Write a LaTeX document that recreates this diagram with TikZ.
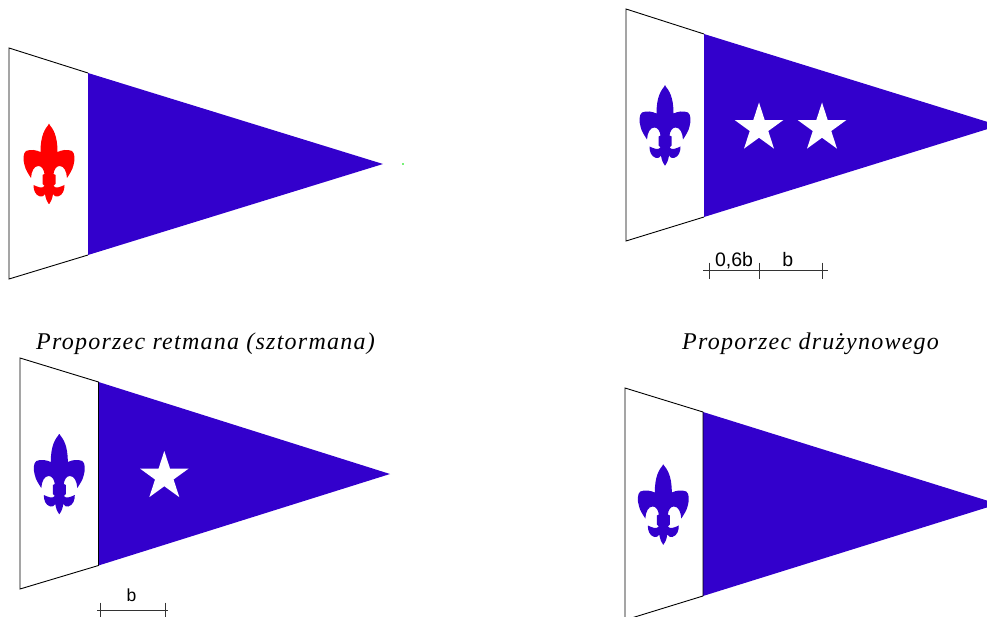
\documentclass[tikz,border=0pt]{standalone}
\usepackage{fontspec}
\setmainfont{Liberation Serif}
\newfontfamily\dimfont{Liberation Sans}
\newfontfamily\captfont[LetterSpace=5.2]{Liberation Serif}
\usetikzlibrary{shapes.geometric}
\definecolor{flagblue}{RGB}{51,0,204}
\definecolor{flagred}{RGB}{255,0,0}
\definecolor{specgreen}{RGB}{120,240,120}
\tikzset{
  flagline/.style={black,line width=0.9pt,line join=miter},
  dimline/.style={black!80,line width=0.9pt},
  dimlabel/.style={font=\dimfont\fontsize{19.5}{22}\selectfont,inner sep=0pt,anchor=base},
  caption/.style={font=\captfont\fontsize{24}{28}\selectfont\itshape,inner sep=0pt,anchor=base west},
  whitestar/.style={star,star points=5,star point ratio=2.618,fill=white,
    minimum size=51pt,inner sep=0pt,outer sep=0pt},
  fleur/.pic={
    \foreach \s in {1,-1}{
      \fill[pic actions,xscale=\s] (0,0) .. controls (-4,5) and (-8.5,11) .. (-8.5,28)
        .. controls (-13,26) and (-18,25) .. (-23,27)
        .. controls (-26,29) and (-26,36) .. (-24.5,41)
        .. controls (-23.5,46) and (-20.5,50) .. (-18,54)
        .. controls (-17.5,47) and (-15,42) .. (-10.5,42)
        .. controls (-7,42) and (-5,46) .. (-4.5,50)
        -- (-6.5,51) -- (-6.5,60) -- (-4.5,62)
        .. controls (-7,65) and (-11,63) .. (-15.5,61)
        .. controls (-15.5,66) and (-14,71) .. (-9,72.5)
        .. controls (-7,73) and (-5,72) .. (-4,70)
        .. controls (-3.5,74) and (-2,78) .. (0,80)
        -- (0.4,80) -- (0.4,0) -- cycle;}
  }
}
\begin{document}
\begin{tikzpicture}[x=1pt,y=-1pt]
  \path[use as bounding box,clip] (0,0) rectangle (987,617);
  % retman
  \fill[flagblue] (88,73) -- (383,164) -- (88,255) -- cycle;
  \draw[flagline] (88,73) -- (9,48) -- (9,279) -- (88,255);
  \pic[fill=flagred] at (49,124) {fleur};
  \fill[specgreen] (402,163) rectangle (403.5,165);
  \node[caption] (captretman) at (36,349) {Proporzec retmana (sztormana)};
  % druzynowy
  \fill[flagblue] (704,34) -- (999,125.5) -- (704,217) -- cycle;
  \draw[flagline] (704,34) -- (626,9) -- (626,241) -- (704,217);
  \pic[fill=flagblue] at (665,85.5) {fleur};
  \node[whitestar] (stara) at (759,128) {};
  \node[whitestar] (starb) at (822,128) {};
  \node[caption] (captdruz) at (682,349) {Proporzec drużynowego};
  \draw[dimline] (703,270.3) -- (827.5,270.3);
  \foreach \x in {709.3,759.7,822.3}{\draw[dimline] (\x,262.7) -- (\x,279);}
  \node[dimlabel] (dimsix) at (734,266.7) {0,6b};
  \node[dimlabel] (dimb) at (787.7,266.7) {b};
  % przyboczny
  \fill[flagblue] (98.5,382) -- (390,474) -- (98.5,565.5) -- cycle;
  \draw[flagline] (98.5,382) -- (20,358) -- (20,589) -- (98.5,565.5) -- cycle;
  \pic[fill=flagblue] at (59.3,434) {fleur};
  \node[whitestar] (starc) at (164.3,476.5) {};
  \draw[dimline] (97,610.7) -- (168,610.7);
  \foreach \x in {100.7,165}{\draw[dimline] (\x,602.7) -- (\x,620);}
  \node[dimlabel,font=\dimfont\fontsize{17.5}{20}\selectfont] (dimc) at (131.5,601.7) {b};
  % zastepowy
  \fill[flagblue] (703,412) -- (998,504) -- (703,596) -- cycle;
  \draw[flagline] (703,412) -- (625,388) -- (625,620) -- (703,596) -- cycle;
  \pic[fill=flagblue] at (663.3,464.5) {fleur};
\end{tikzpicture}
\end{document}
